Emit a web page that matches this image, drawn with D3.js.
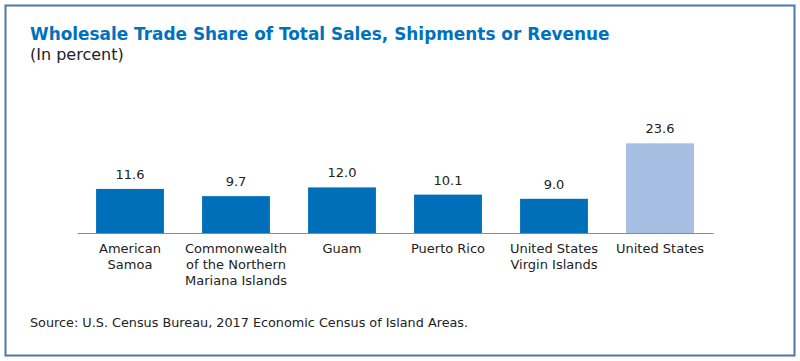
<!DOCTYPE html>
<html>
<head>
<meta charset="utf-8">
<script src="https://cdn.jsdelivr.net/npm/d3@7"></script>
<style>
  html, body { margin: 0; padding: 0; background: #fff; }
  svg { display: block; }
</style>
</head>
<body>
<div id="chart"></div>
<script>
/***********************************************************************/
//Data
/***********************************************************************/
const categories = [
  ['American', 'Samoa'],
  ['Commonwealth', 'of the Northern', 'Mariana Islands'],
  ['Guam'],
  ['Puerto Rico'],
  ['United States', 'Virgin Islands'],
  ['United States']
]
const values = [11.6, 9.7, 12.0, 10.1, 9.0, 23.6]
const highlight = [false, false, false, false, false, true]

const title = 'Wholesale Trade Share of Total Sales, Shipments or Revenue'
const subtitle = '(In percent)'
const source = 'Source: U.S. Census Bureau, 2017 Economic Census of Island Areas.'

/***********************************************************************/
//Plot Area
/***********************************************************************/
const width = 800
const height = 361
const font = '"DejaVu Sans", sans-serif'

const svg = d3.select('#chart')
  .append('svg')
  .attr('width', width)
  .attr('height', height)

svg.append('rect')
  .attr('x', 5.5)
  .attr('y', 5.5)
  .attr('width', 789)
  .attr('height', 350)
  .attr('fill', '#fff')
  .attr('stroke', '#4c79ab')
  .attr('stroke-width', 2)

svg.append('text')
  .attr('x', 30)
  .attr('y', 40)
  .attr('fill', '#0071bc')
  .style('font-family', font)
  .style('font-weight', 'bold')
  .style('font-size', '16.9px')
  .text(title)

svg.append('text')
  .attr('x', 30)
  .attr('y', 60)
  .attr('fill', '#222')
  .style('font-family', font)
  .style('font-size', '16px')
  .text(subtitle)

svg.append('text')
  .attr('x', 30)
  .attr('y', 327)
  .attr('fill', '#222')
  .style('font-family', font)
  .style('font-size', '12.8px')
  .text(source)

/***********************************************************************/
//Scale
/***********************************************************************/
const xScale = d3.scaleBand()
  .domain(d3.range(values.length))
  .range([77, 713])
  .paddingInner(0.36)
  .paddingOuter(0.18)

const yScale = d3.scaleLinear()
  .domain([0, 25])
  .range([233, 138])

/***********************************************************************/
// Plotting
/***********************************************************************/
const g = svg.append('g')

g.selectAll('.bar')
  .data(values)
  .join('rect')
  .attr('class', 'bar')
  .attr('x', (d, i) => xScale(i))
  .attr('y', d => yScale(d))
  .attr('width', xScale.bandwidth())
  .attr('height', d => yScale(0) - yScale(d))
  .attr('fill', (d, i) => highlight[i] ? '#a5bee2' : '#006fba')

g.selectAll('.value')
  .data(values)
  .join('text')
  .attr('class', 'value')
  .attr('x', (d, i) => xScale(i) + xScale.bandwidth() / 2)
  .attr('y', d => yScale(d) - 10)
  .attr('text-anchor', 'middle')
  .attr('fill', '#222')
  .style('font-family', font)
  .style('font-size', '13px')
  .text(d => d3.format('.1f')(d))

// axis line
const xAxis = d3.axisBottom(xScale).tickSize(0).tickFormat('')
const xAxisG = g.append('g')
  .attr('transform', 'translate(0,' + yScale(0) + ')')
  .call(xAxis)
xAxisG.select('.domain').attr('stroke', '#8a8a8a').attr('stroke-width', 1.2)

const labels = g.selectAll('.cat')
  .data(categories)
  .join('text')
  .attr('class', 'cat')
  .attr('x', (d, i) => xScale(i) + xScale.bandwidth() / 2)
  .attr('y', 253)
  .attr('text-anchor', 'middle')
  .attr('fill', '#222')
  .style('font-family', font)
  .style('font-size', '13px')

labels.selectAll('tspan')
  .data(d => d)
  .join('tspan')
  .attr('x', function() { return this.parentNode.getAttribute('x') })
  .attr('dy', (d, i) => i === 0 ? 0 : 16)
  .text(d => d)
</script>
</body>
</html>
